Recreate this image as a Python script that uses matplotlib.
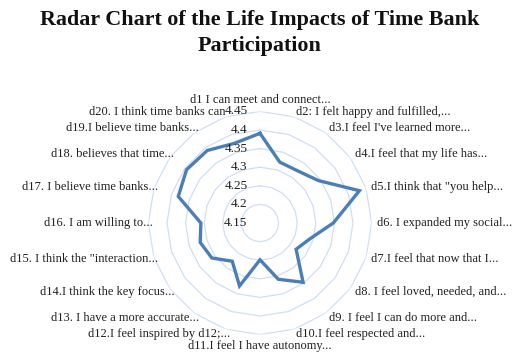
import numpy as np
import matplotlib
matplotlib.use("Agg")
import matplotlib.pyplot as plt

labels = [
    "d1 I can meet and connect...",
    "d2: I felt happy and fulfilled,...",
    "d3.I feel I've learned more...",
    "d4.I feel that my life has...",
    "d5.I think that \"you help...",
    "d6. I expanded my social...",
    "d7.I feel that now that I...",
    "d8. I feel loved, needed, and...",
    "d9. I feel I can do more and...",
    "d10.I feel respected and...",
    "d11.I feel I have autonomy...",
    "d12.I feel inspired by d12;...",
    "d13. I have a more accurate...",
    "d14.I think the key focus...",
    "d15. I think the \"interaction...",
    "d16. I am willing to...",
    "d17. I believe time banks...",
    "d18. believes that time...",
    "d19.I believe time banks...",
    "d20. I think time banks can",
]
values = [4.391, 4.322, 4.323, 4.344, 4.431, 4.347, 4.29, 4.27, 4.347, 4.309,
          4.249, 4.328, 4.277, 4.31, 4.319, 4.309, 4.381, 4.394, 4.391, 4.375]
ticks = [4.15, 4.2, 4.25, 4.3, 4.35, 4.4, 4.45]

plt.rcParams['font.family'] = ['Liberation Serif', 'DejaVu Serif']

W, H = 517, 363
fig = plt.figure(figsize=(W / 100, H / 100), dpi=100)
cx, cy, R = 260, 223, 111.6
ax = fig.add_axes([(cx - R) / W, (H - cy - R) / H, 2 * R / W, 2 * R / H], polar=True)
ax.set_theta_zero_location('N')
ax.set_theta_direction(-1)
ax.set_ylim(ticks[0], ticks[-1])
ax.grid(False)
ax.spines['polar'].set_visible(False)
ax.set_xticks([])
ax.set_yticks([])
ax.patch.set_alpha(0)

n = len(values)
theta = np.arange(n) * 2 * np.pi / n
tc = np.append(theta, theta[0])

# polygon gridlines
for t in ticks[1:]:
    ax.plot(tc, [t] * (n + 1), color='#cfdff2', lw=0.9, zorder=1)

ax.plot(tc, values + [values[0]], color='#4a7ebb', lw=2.4, zorder=3,
        solid_joinstyle='miter')

# value labels along the vertical axis
for t in ticks:
    ax.annotate(f"{t:g}", xy=(0, t), xytext=(-9, 0), textcoords='offset points',
                ha='right', va='center', fontsize=9.5, color='#202020', zorder=4)

# category labels
pad = 4
for th, lab in zip(theta, labels):
    s, c = np.sin(th), np.cos(th)
    xo, yo = pad * s, pad * c
    if abs(s) < 0.01:
        ha = 'center'
        va = 'bottom' if c > 0 else 'top'
    elif s > 0:
        ha, va = 'left', 'center'
    else:
        ha, va = 'right', 'center'
        xo = 3.4 if lab.endswith('...') else 0
    ax.annotate(lab, xy=(th, ticks[-1]), xytext=(xo, yo),
                textcoords='offset points', ha=ha, va=va, fontsize=9,
                color='#202020', annotation_clip=False)

fig.text(cx / W, 1 - 10 / H, "Radar Chart of the Life Impacts of Time Bank\nParticipation",
         ha='center', va='top', fontsize=15.8, fontweight='bold', color='#111111',
         linespacing=1.4)

fig.savefig("out.png", dpi=100)
